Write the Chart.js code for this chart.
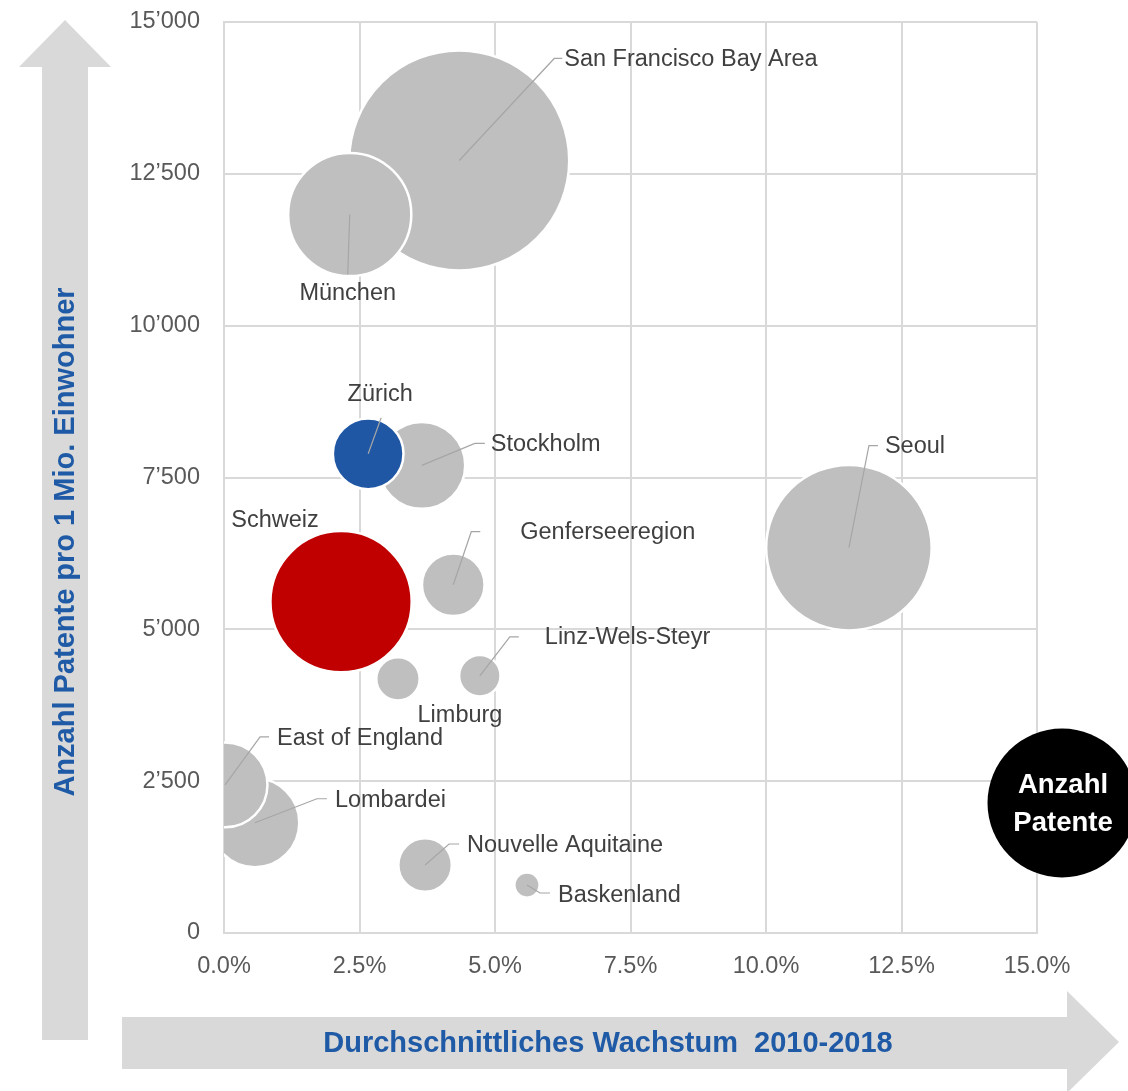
<!DOCTYPE html>
<html><head><meta charset="utf-8">
<script src="https://cdn.jsdelivr.net/npm/chart.js@4/dist/chart.umd.min.js"></script>
<style>html,body{margin:0;padding:0;background:#fff}canvas{display:block}</style>
</head><body>
<canvas id="c" width="1128" height="1091"></canvas>
<script>
// ---- data ----
const regions = ['San Francisco Bay Area','München','Zürich','Stockholm','Genferseeregion','Schweiz','Seoul','Limburg','Linz-Wels-Steyr','East of England','Lombardei','Nouvelle Aquitaine','Baskenland'];
const growthPct = [4.34, 2.32, 2.66, 3.65, 4.23, 2.16, 11.53, 3.21, 4.72, 0.02, 0.57, 3.71, 5.59];
const patentsPerMio = [12720, 11830, 7890, 7700, 5735, 5455, 6345, 4185, 4235, 2440, 1815, 1120, 790];
const patentCount = [98000, 30700, 10100, 15250, 7930, 40400, 55460, 3810, 3470, 14550, 15970, 5790, 1290];
const xTickValues = [0, 2.5, 5, 7.5, 10, 12.5, 15];
const yTickValues = [0, 2500, 5000, 7500, 10000, 12500, 15000];

// ---- styles / layout (not data) ----
const FONT = '"Liberation Sans", Arial, sans-serif';
const highlight = {'Zürich':'#1f57a5', 'Schweiz':'#c00000'};
const GREY = '#bfbfbf';
const MAX_R = 110;
// label placement: leader points and text offset relative to bubble centre (px)
const labelLayout = {
  'San Francisco Bay Area': {lead:[[95,-102],[103,-102]], text:[105,-101], align:'left'},
  'München': {lead:[[-2,60]], text:[-2,78.5], align:'center'},
  'Zürich': {lead:[[13,-36]], text:[12,-59.5], align:'center'},
  'Stockholm': {lead:[[53,-22],[63,-22]], text:[69,-20.5], align:'left'},
  'Genferseeregion': {lead:[[18,-53],[27,-53]], text:[67,-52], align:'left'},
  'Schweiz': {lead:[], text:[-66,-81], align:'center'},
  'Seoul': {lead:[[20,-102],[29,-102]], text:[36,-101.5], align:'left'},
  'Limburg': {lead:[], text:[62,36.5], align:'center'},
  'Linz-Wels-Steyr': {lead:[[30,-39],[39,-39]], text:[65,-38.5], align:'left'},
  'East of England': {lead:[[35,-48],[44,-48]], text:[52,-46], align:'left'},
  'Lombardei': {lead:[[62,-24],[72,-24]], text:[80,-22.5], align:'left'},
  'Nouvelle Aquitaine': {lead:[[24,-21],[34,-21]], text:[42,-19.5], align:'left'},
  'Baskenland': {lead:[[13,8],[23,8]], text:[31,10], align:'left'}
};

const maxPat = Math.max(...patentCount);
const order = regions.map((_, i) => i).sort((a, b) => patentCount[b] - patentCount[a]);
const points = order.map(i => ({x: growthPct[i], y: patentsPerMio[i], r: MAX_R * Math.sqrt(patentCount[i] / maxPat), idx: i}));

const fmtThousands = v => String(Math.round(v)).replace(/\B(?=(\d{3})+(?!\d))/g, '\u2019');

const decorPlugin = {
  id: 'decor',
  beforeDraw(chart) {
    const ctx = chart.ctx;
    ctx.save();
    ctx.fillStyle = '#fff';
    ctx.fillRect(0, 0, chart.width, chart.height);
    ctx.fillStyle = '#d9d9d9';
    // vertical arrow
    ctx.beginPath();
    ctx.moveTo(65, 20); ctx.lineTo(111, 67); ctx.lineTo(88, 67); ctx.lineTo(88, 1040);
    ctx.lineTo(42, 1040); ctx.lineTo(42, 67); ctx.lineTo(19, 67); ctx.closePath(); ctx.fill();
    // horizontal arrow
    ctx.beginPath();
    ctx.moveTo(122, 1017); ctx.lineTo(1067, 1017); ctx.lineTo(1067, 991); ctx.lineTo(1119, 1042);
    ctx.lineTo(1067, 1093); ctx.lineTo(1067, 1069); ctx.lineTo(122, 1069); ctx.closePath(); ctx.fill();
    // titles
    ctx.fillStyle = '#1f5aa6';
    ctx.font = 'bold 29px ' + FONT;
    ctx.textAlign = 'center'; ctx.textBaseline = 'middle';
    ctx.fillText('Durchschnittliches Wachstum  2010-2018', 608, 1044);
    ctx.translate(66, 542); ctx.rotate(-Math.PI / 2);
    ctx.fillText('Anzahl Patente pro 1 Mio. Einwohner', 0, 0);
    ctx.restore();
  },
  afterDatasetsDraw(chart) {
    const ctx = chart.ctx;
    const meta = chart.getDatasetMeta(0);
    ctx.save();
    ctx.font = '23.5px ' + FONT;
    ctx.textBaseline = 'middle';
    meta.data.forEach((el, k) => {
      const name = regions[points[k].idx];
      const L = labelLayout[name];
      if (!L) return;
      const cx = el.x, cy = el.y;
      if (L.lead.length) {
        ctx.strokeStyle = '#a6a6a6'; ctx.lineWidth = 1.2;
        ctx.beginPath(); ctx.moveTo(cx, cy);
        L.lead.forEach(p => ctx.lineTo(cx + p[0], cy + p[1]));
        ctx.stroke();
      }
      ctx.fillStyle = '#404040';
      ctx.textAlign = L.align;
      ctx.fillText(name, cx + L.text[0], cy + L.text[1]);
    });
    ctx.restore();
  },
  afterDraw(chart) {
    const ctx = chart.ctx;
    ctx.save();
    ctx.fillStyle = '#000';
    ctx.beginPath(); ctx.arc(1062, 803, 74.5, 0, Math.PI * 2); ctx.fill();
    ctx.fillStyle = '#fff';
    ctx.font = 'bold 27.5px ' + FONT;
    ctx.textAlign = 'center'; ctx.textBaseline = 'middle';
    ctx.fillText('Anzahl', 1063, 785);
    ctx.fillText('Patente', 1063, 823);
    ctx.restore();
  }
};

new Chart(document.getElementById('c'), {
  type: 'bubble',
  data: {
    datasets: [{
      data: points,
      backgroundColor: points.map(p => highlight[regions[p.idx]] || GREY),
      borderColor: '#ffffff',
      borderWidth: 2.5,
      hoverBorderWidth: 2.5,
      clip: 0
    }]
  },
  options: {
    responsive: false,
    animation: false,
    events: [],
    layout: {autoPadding: false, padding: {top: 22, right: 91, left: 0, bottom: 0}},
    plugins: {legend: {display: false}, tooltip: {enabled: false}},
    scales: {
      x: {
        type: 'linear', min: 0, max: 15,
        afterBuildTicks: s => { s.ticks = xTickValues.map(v => ({value: v})); },
        ticks: {callback: v => Number(v).toFixed(1) + '%', color: '#595959', font: {family: FONT, size: 23.5}, padding: 19, maxRotation: 0},
        grid: {color: '#d9d9d9', lineWidth: 2, drawTicks: false},
        border: {color: '#d9d9d9', width: 2},
        afterFit: s => { s.height = 158; s.paddingLeft = 0; s.paddingRight = 0; }
      },
      y: {
        type: 'linear', min: 0, max: 15000,
        afterBuildTicks: s => { s.ticks = yTickValues.map(v => ({value: v})); },
        ticks: {callback: v => fmtThousands(v), color: '#595959', font: {family: FONT, size: 23.5}, padding: 24},
        grid: {color: '#d9d9d9', lineWidth: 2, drawTicks: false},
        border: {color: '#d9d9d9', width: 2},
        afterFit: s => { s.width = 224; s.paddingTop = 0; s.paddingBottom = 0; }
      }
    }
  },
  plugins: [decorPlugin]
});
</script>
</body></html>
